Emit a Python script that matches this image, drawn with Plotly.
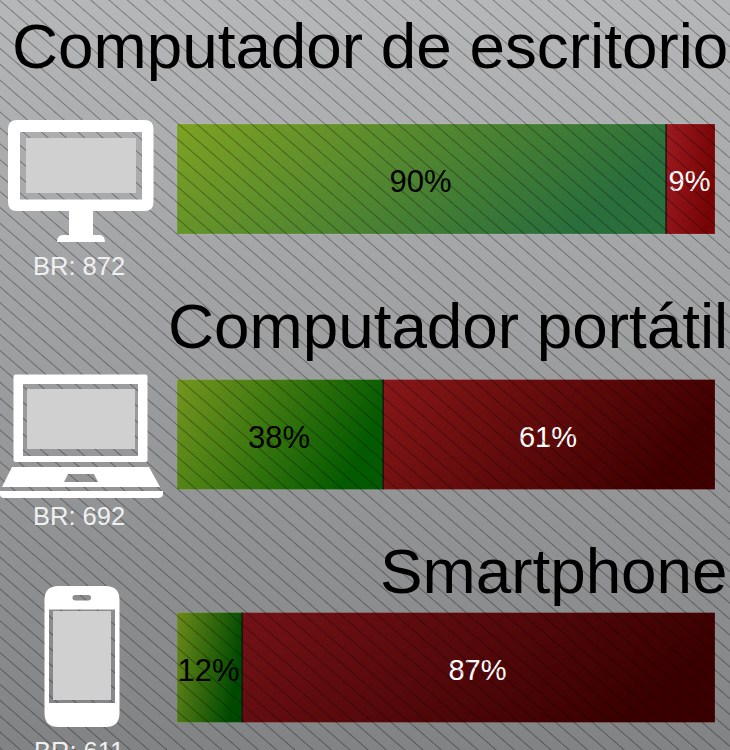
import base64
import plotly.graph_objects as go

titles = ["Computador de escritorio", "Computador portátil", "Smartphone"]
base_counts = [872, 692, 611]
positive_values = [90.9, 38.3, 12.1]
negative_values = [9.1, 61.7, 87.9]
positive_labels = ["90%", "38%", "12%"]
negative_labels = ["9%", "61%", "87%"]

W, H = 730, 750
FONT = "Liberation Sans, Arial, sans-serif"
bar_centers = [179, 434.5, 667.5]
title_y = [46, 326, 571]
count_y = [266, 516, 745]
count_shift = [0, 0, -6]
BAR_H = 110
green_ramps = [("#7da122", "#2a6e3c"), ("#74951f", "#045a00"), ("#6c8a1a", "#004a00")]
red_ramps = [("#9c1a1f", "#770505"), ("#881718", "#400000"), ("#741216", "#3a0000")]


def svg_uri(svg):
    return "data:image/svg+xml;base64," + base64.b64encode(svg.encode()).decode()


bg_svg = f"""<svg xmlns='http://www.w3.org/2000/svg' width='{W}' height='{H}'>
<defs><linearGradient id='g' x1='0' y1='0' x2='0' y2='1'>
<stop offset='0' stop-color='#b6b7b9'/><stop offset='1' stop-color='#828385'/></linearGradient></defs>
<rect width='{W}' height='{H}' fill='url(#g)'/></svg>"""

hatch_svg = f"""<svg xmlns='http://www.w3.org/2000/svg' width='{W}' height='{H}'>
<defs><pattern id='p' width='12' height='12' patternUnits='userSpaceOnUse' patternTransform='rotate(41)'>
<rect x='0' y='0' width='12' height='1' fill='#000' fill-opacity='0.33'/></pattern></defs>
<rect width='{W}' height='{H}' fill='url(#p)'/></svg>"""

fig = go.Figure()


def gradient_rect(x0, x1, yc, ramp):
    y0, y1 = yc - BAR_H / 2, yc + BAR_H / 2
    fig.add_trace(go.Scatter(
        x=[x0, x1, x1, x0, x0], y=[y0, y0, y1, y1, y0], mode="lines",
        line=dict(width=1, color="rgba(255,255,255,0.12)"), fill="toself", hoverinfo="skip", showlegend=False,
        fillgradient=dict(type="horizontal", colorscale=[[0, ramp[0]], [1, ramp[1]]]),
    ))


for i, yc in enumerate(bar_centers):
    gradient_rect(0, positive_values[i], yc, green_ramps[i])
    gradient_rect(positive_values[i], positive_values[i] + negative_values[i], yc, red_ramps[i])
    fig.add_trace(go.Scatter(
        x=[positive_values[i], positive_values[i]], y=[yc - BAR_H / 2, yc + BAR_H / 2],
        mode="lines", line=dict(color="#000", width=1.2), hoverinfo="skip", showlegend=False,
    ))

fig.add_trace(go.Bar(
    y=bar_centers, x=positive_values, orientation="h", width=BAR_H, xaxis="x3", yaxis="y2",
    marker=dict(color="rgba(0,0,0,0)", line=dict(width=0)),
    text=positive_labels, textposition="inside", insidetextanchor="middle", textangle=0,
    constraintext="none", insidetextfont=dict(color="#000", family=FONT, size=31),
    hoverinfo="skip", showlegend=False,
))
fig.add_trace(go.Bar(
    y=bar_centers, x=negative_values, orientation="h", width=BAR_H, xaxis="x3", yaxis="y2",
    marker=dict(color="rgba(0,0,0,0)", line=dict(width=0)),
    text=negative_labels, textposition="inside", insidetextanchor="middle", textangle=0,
    constraintext="none", insidetextfont=dict(color="#fff", family=FONT, size=29),
    hoverinfo="skip", showlegend=False,
))


def rrect(x0, y0, x1, y1, r):
    return (f"M{x0+r},{y0} L{x1-r},{y0} Q{x1},{y0} {x1},{y0+r} L{x1},{y1-r} Q{x1},{y1} {x1-r},{y1} "
            f"L{x0+r},{y1} Q{x0},{y1} {x0},{y1-r} L{x0},{y0+r} Q{x0},{y0} {x0+r},{y0} Z")


def rect(x0, y0, x1, y1):
    return f"M{x0},{y0} L{x1},{y0} L{x1},{y1} L{x0},{y1} Z"


def circle(cx, cy, r):
    return f"M{cx-r},{cy} A{r},{r} 0 1 1 {cx+r},{cy} A{r},{r} 0 1 1 {cx-r},{cy} Z"


WHITE = "#ffffff"
SCREEN = "#d0d0d0"
icon_paths = [
    # monitor
    (rrect(8, 120, 153.5, 211, 9) + " " + rect(20, 132, 142, 199.5), WHITE),
    (rect(26, 138, 136, 193), SCREEN),
    ("M69,211 L93,211 L93,235 L100,235 Q105,236 105,242 L57,242 Q57,236 62,235 L69,235 Z", WHITE),
    # laptop
    (rrect(13.5, 374.5, 147.5, 462, 2) + " " + rect(23, 384, 138, 456), WHITE),
    (rect(27, 389, 135, 449), SCREEN),
    ("M12,467 L149,467 L160,487 L2,487 Z M68,474 L64,482 L98,482 L94,474 Z", WHITE),
    ("M0,491 L163,491 L163,494 Q163,498 158,498 L4,498 Q0,498 0,494 Z", WHITE),
    # phone
    (rrect(44.5, 586, 119.5, 727, 14) + " " + rect(49, 609.5, 115, 703)
     + " " + rrect(72.5, 595, 91, 600.5, 2.7) + " " + circle(82, 715, 7), WHITE),
    (rect(53, 611, 111, 700), SCREEN),
]
shapes = [
    dict(type="path", path=p, xref="x2", yref="y", fillcolor=c, line=dict(width=0),
         layer="above", fillrule="evenodd")
    for p, c in icon_paths
]

annotations = []
for i, t in enumerate(titles):
    annotations.append(dict(
        text=t, x=729.5, y=title_y[i], xref="x2", yref="y", xanchor="right", yanchor="middle",
        showarrow=False, font=dict(family=FONT, size=63.8, color="#000"),
    ))
    annotations.append(dict(
        text=f"BR: {base_counts[i]}", x=79, y=count_y[i], yshift=count_shift[i], xref="x2", yref="y",
        xanchor="center", yanchor="middle", showarrow=False,
        font=dict(family=FONT, size=25.5, color="#f0f0f0"),
    ))

img = dict(xref="paper", yref="paper", x=0, y=1, sizex=1, sizey=1, sizing="stretch",
           xanchor="left", yanchor="top")
fig.update_layout(
    width=W, height=H, margin=dict(l=0, r=0, t=0, b=0), barmode="stack", bargap=0,
    paper_bgcolor="#9c9d9f", plot_bgcolor="rgba(0,0,0,0)", showlegend=False,
    xaxis=dict(domain=[177 / W, 715 / W], range=[0, 100], visible=False, fixedrange=True),
    xaxis2=dict(anchor="y", domain=[0, 1], range=[0, W], visible=False, fixedrange=True),
    xaxis3=dict(overlaying="x", anchor="y2", range=[0.25, 100.25], visible=False, fixedrange=True),
    yaxis=dict(domain=[0, 1], range=[H, 0], visible=False, fixedrange=True),
    yaxis2=dict(overlaying="y", anchor="x3", range=[H - 2, -2], visible=False, fixedrange=True),
    shapes=shapes, annotations=annotations,
    images=[dict(source=svg_uri(bg_svg), layer="below", **img),
            dict(source=svg_uri(hatch_svg), layer="above", **img)],
)
fig.add_trace(go.Scatter(x=[0], y=[0], xaxis="x2", yaxis="y", mode="markers",
                         marker=dict(opacity=0), hoverinfo="skip", showlegend=False))

tilt = """
document.body.style.margin='0';
document.documentElement.style.overflow='hidden';
function tiltGradients(){
  document.querySelectorAll('.gradients linearGradient').forEach(function(g){
    g.setAttribute('gradientUnits','objectBoundingBox');
    g.removeAttribute('gradientTransform');
    g.setAttribute('x1','1');g.setAttribute('y1','0.3');
    g.setAttribute('x2','0');g.setAttribute('y2','0');
  });
}
tiltGradients();
setTimeout(tiltGradients,0);
"""
fig.write_html("out.html", config=dict(displayModeBar=False), post_script=tilt)
